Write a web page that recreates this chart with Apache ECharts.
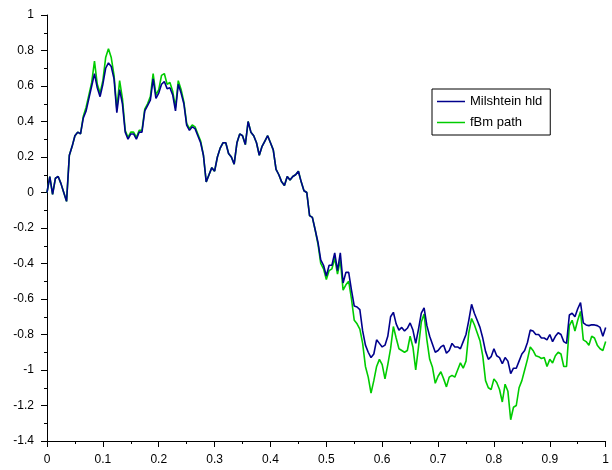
<!DOCTYPE html>
<html>
<head>
<meta charset="utf-8">
<script src="https://cdn.jsdelivr.net/npm/echarts@6/dist/echarts.min.js"></script>
<style>
  html, body { margin: 0; padding: 0; background: #ffffff; }
  #chart { width: 612px; height: 470px; }
</style>
</head>
<body>
<div id="chart"></div>
<script>
// Sample paths on [0, 1], one value every dt = 0.005
const dt = 0.005;

// Milshtein scheme (hld) path
const milshteinValues = [
  0.00, 0.09, -0.01, 0.08, 0.09, 0.05, 0.00, -0.05, 0.21, 0.26,
  0.32, 0.34, 0.33, 0.42, 0.46, 0.53, 0.60, 0.67, 0.59, 0.54,
  0.61, 0.70, 0.73, 0.71, 0.64, 0.45, 0.58, 0.50, 0.34, 0.30,
  0.33, 0.33, 0.30, 0.34, 0.34, 0.46, 0.49, 0.52, 0.64, 0.53,
  0.56, 0.61, 0.625, 0.585, 0.59, 0.55, 0.46, 0.61, 0.56, 0.50,
  0.38, 0.35, 0.37, 0.36, 0.32, 0.28, 0.21, 0.06, 0.10, 0.14,
  0.12, 0.20, 0.25, 0.28, 0.28, 0.22, 0.20, 0.16, 0.28, 0.33,
  0.32, 0.27, 0.40, 0.34, 0.32, 0.28, 0.21, 0.26, 0.29, 0.32,
  0.28, 0.24, 0.13, 0.10, 0.06, 0.04, 0.09, 0.07, 0.09, 0.10,
  0.12, 0.06, 0.01, 0.00, -0.13, -0.14, -0.21, -0.28, -0.38, -0.41,
  -0.47, -0.41, -0.41, -0.34, -0.44, -0.34, -0.51, -0.45, -0.45, -0.55,
  -0.64, -0.645, -0.66, -0.78, -0.86, -0.90, -0.93, -0.91, -0.83, -0.85,
  -0.87, -0.86, -0.81, -0.70, -0.675, -0.74, -0.775, -0.76, -0.78, -0.765,
  -0.735, -0.775, -0.85, -0.77, -0.68, -0.65, -0.75, -0.81, -0.855, -0.90,
  -0.89, -0.87, -0.86, -0.905, -0.89, -0.85, -0.87, -0.87, -0.88, -0.84,
  -0.80, -0.72, -0.63, -0.68, -0.72, -0.76, -0.82, -0.895, -0.94, -0.925,
  -0.88, -0.92, -0.93, -0.965, -0.93, -0.95, -1.02, -0.99, -0.99, -0.95,
  -0.91, -0.89, -0.845, -0.775, -0.78, -0.80, -0.80, -0.82, -0.82, -0.83,
  -0.80, -0.84, -0.81, -0.79, -0.80, -0.84, -0.85, -0.69, -0.68, -0.70,
  -0.655, -0.62, -0.735, -0.746, -0.75, -0.745, -0.746, -0.75, -0.76, -0.81,
  -0.76
];

// Reference fractional Brownian motion path
const fbmValues = [
  0.00, 0.09, -0.01, 0.08, 0.09, 0.05, 0.00, -0.05, 0.21, 0.26,
  0.32, 0.34, 0.33, 0.43, 0.48, 0.55, 0.62, 0.74, 0.61, 0.56,
  0.63, 0.76, 0.81, 0.76, 0.66, 0.47, 0.63, 0.53, 0.35, 0.31,
  0.34, 0.34, 0.31, 0.35, 0.35, 0.47, 0.50, 0.54, 0.67, 0.55,
  0.58, 0.66, 0.67, 0.61, 0.62, 0.57, 0.48, 0.63, 0.58, 0.51,
  0.39, 0.36, 0.38, 0.37, 0.33, 0.29, 0.21, 0.06, 0.10, 0.14,
  0.12, 0.20, 0.25, 0.28, 0.28, 0.22, 0.20, 0.16, 0.28, 0.33,
  0.32, 0.27, 0.40, 0.34, 0.32, 0.28, 0.21, 0.26, 0.29, 0.32,
  0.28, 0.24, 0.13, 0.10, 0.06, 0.04, 0.09, 0.07, 0.09, 0.10,
  0.12, 0.06, 0.01, 0.00, -0.13, -0.14, -0.21, -0.29, -0.40, -0.43,
  -0.49, -0.44, -0.43, -0.37, -0.46, -0.38, -0.55, -0.52, -0.50, -0.60,
  -0.72, -0.74, -0.77, -0.85, -0.98, -1.04, -1.13, -1.06, -0.98, -0.94,
  -0.97, -1.05, -0.97, -0.88, -0.755, -0.82, -0.88, -0.89, -0.90, -0.89,
  -0.81, -0.87, -1.00, -0.87, -0.73, -0.685, -0.83, -0.94, -0.985, -1.075,
  -1.035, -1.01, -1.05, -1.095, -1.04, -1.03, -1.04, -1.00, -0.96, -0.99,
  -0.95, -0.79, -0.71, -0.745, -0.79, -0.835, -0.92, -1.06, -1.10, -1.11,
  -1.05, -1.07, -1.11, -1.18, -1.08, -1.12, -1.28, -1.21, -1.20, -1.10,
  -1.06, -1.00, -0.94, -0.87, -0.89, -0.92, -0.925, -0.935, -0.93, -0.98,
  -0.94, -0.96, -0.92, -0.90, -0.91, -0.98, -0.98, -0.75, -0.72, -0.78,
  -0.72, -0.67, -0.83, -0.84, -0.86, -0.81, -0.82, -0.86, -0.88, -0.89,
  -0.84
];

const seriesNames = ['Milshtein hld', 'fBm path'];
const xTicks = { min: 0, max: 1, step: 0.1 };
const yTicks = { min: -1.4, max: 1, step: 0.2 };

const toPairs = vals => vals.map((v, i) => [i * dt, v]);

const chart = echarts.init(document.getElementById('chart'), null, { renderer: 'canvas' });

const axisCommon = {
  type: 'value',
  axisLine: { show: true, onZero: false, lineStyle: { color: '#000000', width: 1 } },
  axisTick: { show: true, inside: false, length: 6, lineStyle: { color: '#000000' } },
  minorTick: { show: true, splitNumber: 2, length: 3, lineStyle: { color: '#000000' } },
  splitLine: { show: false },
  minorSplitLine: { show: false },
  axisLabel: {
    color: '#000000',
    fontFamily: 'Liberation Sans, Arial, sans-serif',
    fontSize: 12,
    margin: 13
  }
};

chart.setOption({
  animation: false,
  backgroundColor: '#ffffff',
  grid: { left: 47, right: -1, top: 15, bottom: 29, containLabel: false },
  xAxis: Object.assign({}, axisCommon, {
    min: xTicks.min, max: xTicks.max, interval: xTicks.step
  }),
  yAxis: Object.assign({}, axisCommon, {
    min: yTicks.min, max: yTicks.max, interval: yTicks.step
  }),
  legend: {
    data: seriesNames,
    orient: 'vertical',
    left: 432,
    top: 89,
    padding: [6, 8, 6, 5],
    itemGap: 8,
    itemWidth: 28,
    itemHeight: 1.5,
    itemTextGap: 9,
    icon: 'rect',
    borderColor: '#000000',
    borderWidth: 1,
    backgroundColor: '#ffffff',
    textStyle: {
      color: '#000000',
      fontFamily: 'Liberation Sans, Arial, sans-serif',
      fontSize: 13
    }
  },
  series: [
    {
      name: seriesNames[1],
      type: 'line',
      data: toPairs(fbmValues),
      showSymbol: false,
      symbol: 'none',
      z: 2,
      lineStyle: { color: '#00cc00', width: 1.6 },
      itemStyle: { color: '#00cc00' }
    },
    {
      name: seriesNames[0],
      type: 'line',
      data: toPairs(milshteinValues),
      showSymbol: false,
      symbol: 'none',
      z: 3,
      lineStyle: { color: '#00008c', width: 1.6 },
      itemStyle: { color: '#00008c' }
    }
  ]
});
</script>
</body>
</html>
